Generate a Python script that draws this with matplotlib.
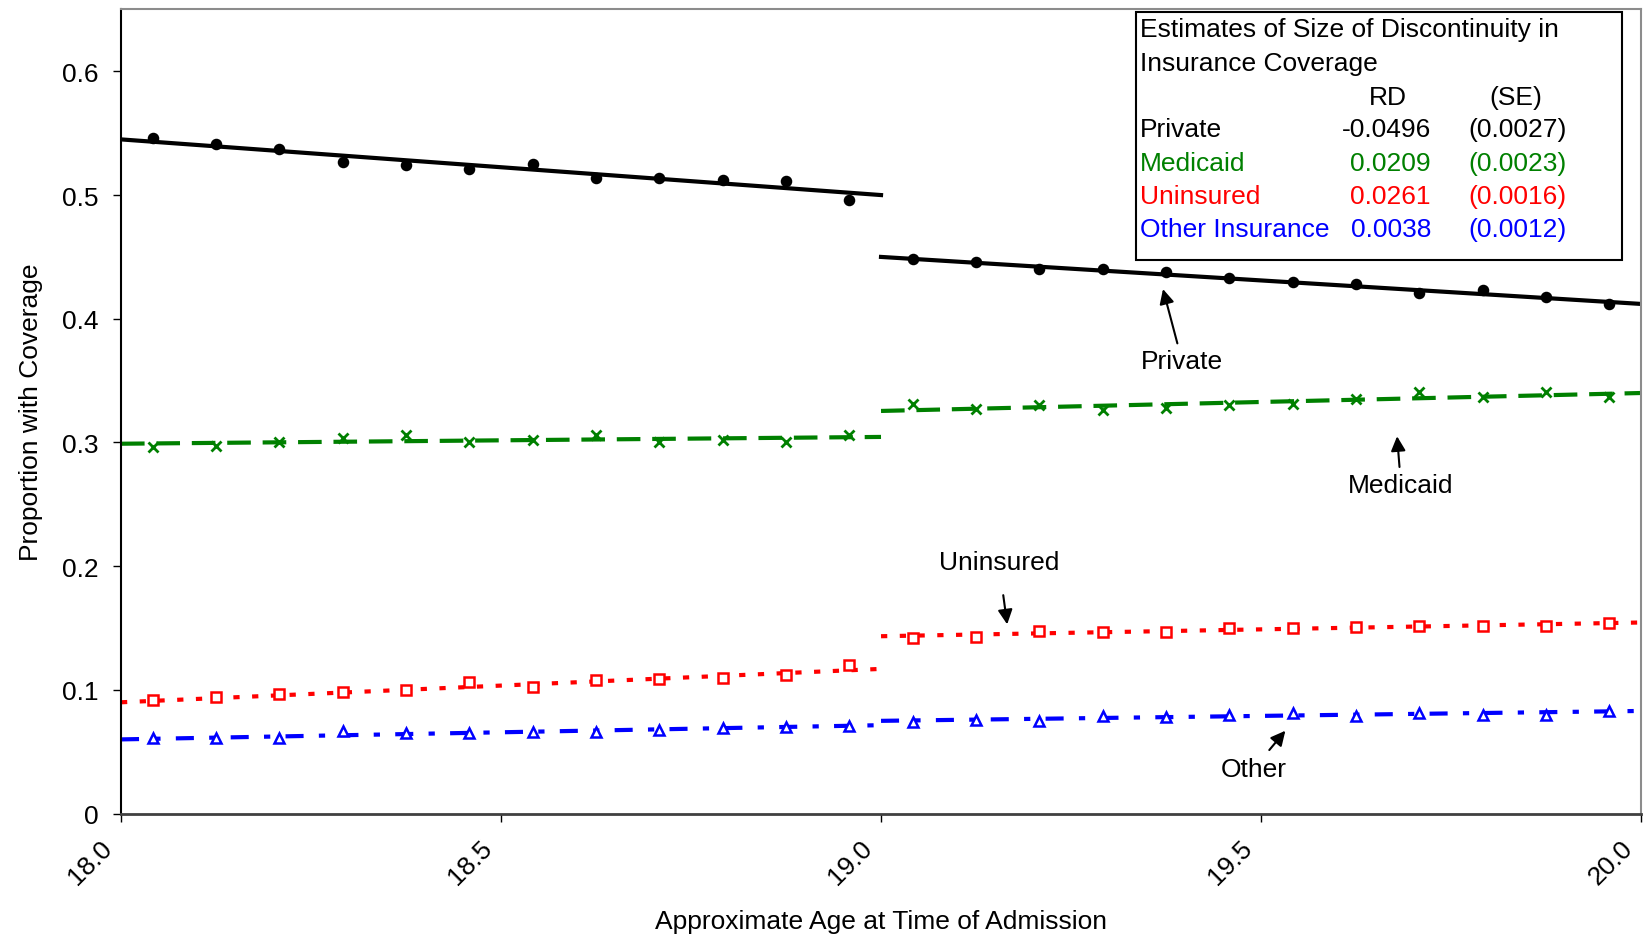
import matplotlib
matplotlib.use("Agg")
import matplotlib.pyplot as plt
import matplotlib.transforms as mtransforms
from matplotlib.patches import Rectangle

plt.rcParams['font.family'] = ['Liberation Sans', 'DejaVu Sans']
plt.rcParams['lines.scale_dashes'] = False

# monthly cells, before and after age 19
ages_before = [18.042, 18.125, 18.208, 18.292, 18.375, 18.458,
               18.542, 18.625, 18.708, 18.792, 18.875, 18.958]
ages_after = [19.042, 19.125, 19.208, 19.292, 19.375, 19.458,
              19.542, 19.625, 19.708, 19.792, 19.875, 19.958]

private_pts = [0.546, 0.541, 0.537, 0.527, 0.524, 0.521, 0.525, 0.514, 0.514, 0.512, 0.511, 0.496,
               0.448, 0.446, 0.440, 0.440, 0.438, 0.433, 0.430, 0.428, 0.421, 0.423, 0.418, 0.412]
medicaid_pts = [0.296, 0.297, 0.300, 0.304, 0.306, 0.300, 0.302, 0.306, 0.300, 0.302, 0.300, 0.306,
                0.331, 0.327, 0.330, 0.326, 0.328, 0.330, 0.331, 0.335, 0.341, 0.337, 0.341, 0.337]
uninsured_pts = [0.092, 0.094, 0.097, 0.098, 0.100, 0.106, 0.102, 0.108, 0.109, 0.110, 0.112, 0.120,
                 0.142, 0.143, 0.148, 0.147, 0.147, 0.150, 0.150, 0.151, 0.152, 0.152, 0.152, 0.154]
other_pts = [0.061, 0.061, 0.061, 0.067, 0.065, 0.065, 0.066, 0.066, 0.068, 0.069, 0.070, 0.071,
             0.074, 0.076, 0.075, 0.079, 0.078, 0.080, 0.081, 0.079, 0.081, 0.080, 0.080, 0.083]

# fitted lines: value at 18, 19- | 19+, 20
fit_x = [18.0, 19.0]
fit_x2 = [19.0, 20.0]
private_fit = [0.545, 0.500, 0.450, 0.412]
medicaid_fit = [0.299, 0.3045, 0.3255, 0.340]
uninsured_fit = [0.090, 0.117, 0.1434, 0.1545]
other_fit = [0.060, 0.0715, 0.075, 0.083]

table_rows = ["Private", "Medicaid", "Uninsured", "Other Insurance"]
table_rd = ["-0.0496", "0.0209", "0.0261", "0.0038"]
table_se = ["(0.0027)", "(0.0023)", "(0.0016)", "(0.0012)"]
row_colors = ["black", "#008000", "red", "blue"]

fig = plt.figure(figsize=(16.46, 9.37), dpi=100)
ax = fig.add_axes([0.0735, 0.1306, 0.9235, 0.8582])
fs = 19

ages = ages_before + ages_after
series = [
    (private_pts, private_fit, "black", None, "o", "black"),
    (medicaid_pts, medicaid_fit, "#008000", (0, (17, 8.5)), "x", "#008000"),
    (uninsured_pts, uninsured_fit, "red", (0, (4.5, 9)), "s", "white"),
    (other_pts, other_fit, "blue", (0, (13, 11, 4.5, 11)), "^", "white"),
]
for pts, fit, col, ls, mk, mfc in series:
    style = "-" if ls is None else ls
    ax.plot(fit_x, fit[:2], color=col, lw=3, linestyle=style, zorder=2)
    ax.plot(fit_x2, fit[2:], color=col, lw=3, linestyle=style, zorder=2)
for pts, fit, col, ls, mk, mfc in series:
    if mk == "x":
        ax.plot(ages, pts, linestyle="none", marker="x", ms=7, mew=2, color=col, zorder=3)
    else:
        ax.plot(ages, pts, linestyle="none", marker=mk, ms=6.5, mew=1.8,
                color=col, markerfacecolor=mfc, zorder=3)

ax.set_xlim(18, 20)
ax.set_ylim(0, 0.65)
ax.set_xticks([18.0, 18.5, 19.0, 19.5, 20.0])
ax.set_xticklabels(["18.0", "18.5", "19.0", "19.5", "20.0"], rotation=45,
                   ha="right", rotation_mode="anchor", fontsize=fs)
ax.set_yticks([0, 0.1, 0.2, 0.3, 0.4, 0.5, 0.6])
ax.set_yticklabels(["0", "0.1", "0.2", "0.3", "0.4", "0.5", "0.6"], fontsize=fs)
ax.tick_params(axis="x", length=6, width=1, pad=14)
ax.tick_params(axis="y", length=6, width=1, pad=10)
# shift the slanted labels left, as in the original
shift = mtransforms.ScaledTranslation(-0.21, 0.06, fig.dpi_scale_trans)
for lab in ax.get_xticklabels():
    lab.set_transform(lab.get_transform() + shift)
ax.set_xlabel("Approximate Age at Time of Admission", fontsize=fs)
ax.xaxis.set_label_coords(0.5, -0.118)
ax.set_ylabel("Proportion with Coverage", fontsize=fs, labelpad=14)

ax.spines["left"].set_color("black")
ax.spines["left"].set_linewidth(1.5)
ax.spines["bottom"].set_color("#404040")
ax.spines["bottom"].set_linewidth(2)
for s in ["top", "right"]:
    ax.spines[s].set_color("#8c8c8c")
    ax.spines[s].set_linewidth(1.5)

# annotations
arrow = dict(arrowstyle="-|>", color="black", lw=1.5, mutation_scale=22)
ax.annotate("Private", xy=(19.371, 0.424), xytext=(19.396, 0.366), fontsize=fs,
            ha="center", va="center", arrowprops=dict(arrow, shrinkA=2, shrinkB=0))
ax.annotate("Medicaid", xy=(19.679, 0.305), xytext=(19.684, 0.266), fontsize=fs,
            ha="center", va="center", arrowprops=dict(arrow, shrinkA=2, shrinkB=0))
ax.annotate("Uninsured", xy=(19.166, 0.153), xytext=(19.155, 0.203), fontsize=fs,
            ha="center", va="center", arrowprops=dict(arrow, shrinkA=13, shrinkB=0))
ax.annotate("Other", xy=(19.532, 0.067), xytext=(19.49, 0.036), fontsize=fs,
            ha="center", va="center", arrowprops=dict(arrow, shrinkA=4, shrinkB=0))

# estimates box
ax.add_patch(Rectangle((0.668, 0.6885), 0.3195, 0.309, transform=ax.transAxes,
                       facecolor="white", edgecolor="black", lw=1.5, zorder=4))
row_y = [0.9753, 0.9335, 0.8917, 0.8511, 0.8094, 0.7677, 0.7272]
ax.text(0.6705, row_y[0], "Estimates of Size of Discontinuity in", transform=ax.transAxes,
        fontsize=fs, va="center", zorder=5)
ax.text(0.6705, row_y[1], "Insurance Coverage", transform=ax.transAxes,
        fontsize=fs, va="center", zorder=5)
ax.text(0.8336, row_y[2], "RD", transform=ax.transAxes, fontsize=fs,
        ha="center", va="center", zorder=5)
ax.text(0.9178, row_y[2], "(SE)", transform=ax.transAxes, fontsize=fs,
        ha="center", va="center", zorder=5)
for i, name in enumerate(table_rows):
    y = row_y[3 + i]
    c = row_colors[i]
    ax.text(0.6705, y, name, transform=ax.transAxes, fontsize=fs, va="center", color=c, zorder=5)
    ax.text(0.8618, y, table_rd[i], transform=ax.transAxes, fontsize=fs, va="center",
            ha="right", color=c, zorder=5)
    ax.text(0.8865, y, table_se[i], transform=ax.transAxes, fontsize=fs, va="center",
            ha="left", color=c, zorder=5)

fig.savefig("out.png", dpi=100)
plt.close(fig)
